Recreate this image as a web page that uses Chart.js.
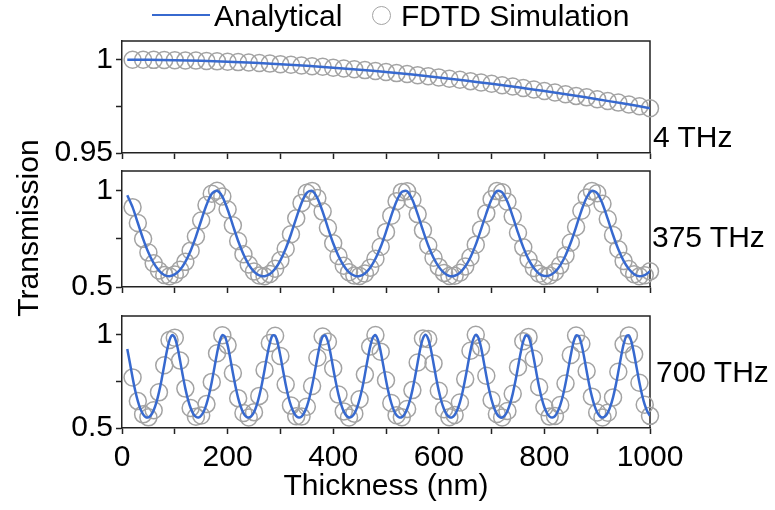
<!DOCTYPE html>
<html>
<head>
<meta charset="utf-8">
<script src="https://cdn.jsdelivr.net/npm/chart.js@4.4.1/dist/chart.umd.min.js"></script>
<style>
  body { margin: 0; background: #fff; }
  #wrap { position: relative; width: 775px; height: 510px; overflow: hidden;
          font-family: "Liberation Sans", Arial, sans-serif; color: #000; }
  canvas { position: absolute; left: 0; }
  .txt { position: absolute; font-size: 30px; line-height: 30px; white-space: nowrap; }
</style>
</head>
<body>
<div id="wrap">
  <canvas id="p1" width="775" height="134" style="top:31px"></canvas>
  <canvas id="p2" width="775" height="138" style="top:161px"></canvas>
  <canvas id="p3" width="775" height="204" style="top:306px"></canvas>

  <div style="position:absolute;left:152px;top:14px;width:58px;border-top:2.5px solid #3769cf"></div>
  <div class="txt" style="left:214px;top:1px">Analytical</div>
  <div style="position:absolute;left:372px;top:6px;width:17px;height:17px;border:1.5px solid #a3a3a3;border-radius:50%"></div>
  <div class="txt" style="left:401px;top:1px">FDTD Simulation</div>

  <div class="txt" style="left:-122px;top:213px;width:300px;text-align:center;transform:rotate(-90deg)">Transmission</div>

  <div class="txt" style="left:653px;top:122px">4 THz</div>
  <div class="txt" style="left:652px;top:222px">375 THz</div>
  <div class="txt" style="left:656px;top:357px">700 THz</div>
</div>
<script>
// thickness grids (nm)
const thk1Line = [10,50,100,150,200,250,300,350,400,450,500,550,600,650,700,750,800,850,900,950,1000];
const thk1Sim = [20,40,60,80,100,120,140,160,180,200,220,240,260,280,300,320,340,360,380,400,
  420,440,460,480,500,520,540,560,580,600,620,640,660,680,700,720,740,760,780,800,
  820,840,860,880,900,920,940,960,980,1000];
const thk10 = [10,20,30,40,50,60,70,80,90,100,110,120,130,140,150,160,170,180,190,200,
  210,220,230,240,250,260,270,280,290,300,310,320,330,340,350,360,370,380,390,400,
  410,420,430,440,450,460,470,480,490,500,510,520,530,540,550,560,570,580,590,600,
  610,620,630,640,650,660,670,680,690,700,710,720,730,740,750,760,770,780,790,800,
  810,820,830,840,850,860,870,880,890,900,910,920,930,940,950,960,970,980,990,1000];
const thkSim = [20,30,40,50,60,70,80,90,100,110,120,130,140,150,160,170,180,190,200,
  210,220,230,240,250,260,270,280,290,300,310,320,330,340,350,360,370,380,390,400,
  410,420,430,440,450,460,470,480,490,500,510,520,530,540,550,560,570,580,590,600,
  610,620,630,640,650,660,670,680,690,700,710,720,730,740,750,760,770,780,790,800,
  810,820,830,840,850,860,870,880,890,900,910,920,930,940,950,960,970,980,990,1000];
const thk5 = [10,15,20,25,30,35,40,45,50,55,60,65,70,75,80,85,90,95,100,105,
  110,115,120,125,130,135,140,145,150,155,160,165,170,175,180,185,190,195,200,205,
  210,215,220,225,230,235,240,245,250,255,260,265,270,275,280,285,290,295,300,305,
  310,315,320,325,330,335,340,345,350,355,360,365,370,375,380,385,390,395,400,405,
  410,415,420,425,430,435,440,445,450,455,460,465,470,475,480,485,490,495,500,505,
  510,515,520,525,530,535,540,545,550,555,560,565,570,575,580,585,590,595,600,605,
  610,615,620,625,630,635,640,645,650,655,660,665,670,675,680,685,690,695,700,705,
  710,715,720,725,730,735,740,745,750,755,760,765,770,775,780,785,790,795,800,805,
  810,815,820,825,830,835,840,845,850,855,860,865,870,875,880,885,890,895,900,905,
  910,915,920,925,930,935,940,945,950,955,960,965,970,975,980,985,990,995,1000];

// 4 THz
const t4Analytical = [1.000,0.9999,0.9997,0.9994,0.9989,0.9983,0.9976,0.9967,0.9957,0.9946,0.9934,
  0.9920,0.9905,0.9888,0.9871,0.9852,0.9832,0.9811,0.9788,0.9765,0.9740];
const t4Fdtd = [1.000,1.000,0.9999,0.9998,0.9997,0.9996,0.9995,0.9993,0.9991,0.9989,
  0.9987,0.9985,0.9982,0.9979,0.9976,0.9973,0.9969,0.9965,0.9962,0.9957,
  0.9953,0.9949,0.9944,0.9939,0.9934,0.9928,0.9923,0.9917,0.9911,0.9905,
  0.9898,0.9892,0.9885,0.9878,0.9871,0.9863,0.9856,0.9848,0.9840,0.9832,
  0.9824,0.9815,0.9806,0.9798,0.9788,0.9779,0.9770,0.9760,0.9750,0.9740];

// 375 THz
const t375Analytical = [0.975,0.913,0.831,0.749,0.678,0.623,0.585,0.562,0.556,0.565,
  0.589,0.630,0.688,0.761,0.844,0.924,0.982,0.998,0.968,0.901,
  0.819,0.738,0.669,0.616,0.580,0.560,0.556,0.567,0.594,0.638,
  0.698,0.773,0.856,0.935,0.987,0.997,0.960,0.890,0.806,0.726,
  0.660,0.610,0.576,0.559,0.557,0.570,0.600,0.646,0.708,0.785,
  0.869,0.944,0.992,0.995,0.951,0.877,0.793,0.715,0.651,0.604,
  0.573,0.557,0.558,0.574,0.606,0.654,0.719,0.798,0.881,0.954,
  0.996,0.990,0.941,0.865,0.781,0.705,0.643,0.598,0.569,0.557,
  0.560,0.578,0.612,0.663,0.730,0.810,0.894,0.963,0.997,0.985,
  0.931,0.852,0.769,0.695,0.635,0.593,0.566,0.556,0.561,0.581];
const t375Fdtd = [0.913,0.831,0.749,0.678,0.623,0.585,0.562,0.556,0.565,
  0.589,0.630,0.688,0.761,0.844,0.924,0.982,0.998,0.968,0.901,
  0.819,0.738,0.669,0.616,0.580,0.560,0.556,0.567,0.594,0.638,
  0.698,0.773,0.856,0.935,0.987,0.997,0.960,0.890,0.806,0.726,
  0.660,0.610,0.576,0.559,0.557,0.570,0.600,0.646,0.708,0.785,
  0.869,0.944,0.992,0.995,0.951,0.877,0.793,0.715,0.651,0.604,
  0.573,0.557,0.558,0.574,0.606,0.654,0.719,0.798,0.881,0.954,
  0.996,0.990,0.941,0.865,0.781,0.705,0.643,0.598,0.569,0.557,
  0.560,0.578,0.612,0.663,0.730,0.810,0.894,0.963,0.997,0.985,
  0.931,0.852,0.769,0.695,0.635,0.593,0.566,0.556,0.561,0.581];

// 700 THz
const t700Analytical = [0.923,0.848,0.771,0.701,0.644,0.601,0.573,0.558,0.557,0.569,
  0.595,0.636,0.691,0.759,0.836,0.912,0.971,0.998,0.984,0.934,
  0.861,0.783,0.711,0.652,0.607,0.576,0.560,0.556,0.567,0.590,
  0.628,0.681,0.747,0.823,0.900,0.964,0.997,0.989,0.944,0.873,
  0.795,0.722,0.660,0.613,0.580,0.561,0.556,0.564,0.585,0.621,
  0.672,0.736,0.811,0.889,0.955,0.995,0.994,0.953,0.886,0.808,
  0.733,0.669,0.620,0.585,0.563,0.556,0.561,0.581,0.614,0.662,
  0.725,0.798,0.876,0.946,0.990,0.996,0.962,0.898,0.820,0.745,
  0.679,0.627,0.589,0.566,0.556,0.560,0.577,0.608,0.654,0.713,
  0.786,0.864,0.936,0.985,0.998,0.970,0.909,0.833,0.756,0.688,
  0.634,0.594,0.568,0.557,0.558,0.573,0.602,0.645,0.703,0.773,
  0.851,0.926,0.980,1.000,0.977,0.921,0.846,0.768,0.699,0.642,
  0.600,0.572,0.558,0.557,0.570,0.596,0.637,0.693,0.762,0.839,
  0.914,0.973,0.999,0.983,0.932,0.858,0.780,0.709,0.650,0.606,
  0.575,0.559,0.556,0.567,0.591,0.630,0.683,0.750,0.826,0.903,
  0.965,0.997,0.988,0.941,0.871,0.793,0.720,0.658,0.611,0.579,
  0.561,0.556,0.564,0.587,0.623,0.673,0.738,0.813,0.891,0.958,
  0.995,0.993,0.951,0.883,0.805,0.731,0.668,0.618,0.583,0.563,
  0.556,0.562,0.582,0.616,0.664,0.727,0.801,0.879,0.948,0.991,
  0.996,0.960,0.895,0.818,0.742,0.677,0.625,0.588,0.565];
const t700Fdtd = [0.771,0.644,0.573,0.557,0.595,0.691,0.836,0.971,0.984,
  0.861,0.711,0.607,0.560,0.567,0.628,0.747,0.900,0.997,0.944,
  0.795,0.660,0.580,0.556,0.585,0.672,0.811,0.955,0.994,0.886,
  0.733,0.620,0.563,0.561,0.614,0.725,0.876,0.990,0.962,0.820,
  0.679,0.589,0.556,0.577,0.654,0.786,0.936,0.998,0.909,0.756,
  0.634,0.568,0.558,0.602,0.703,0.851,0.980,0.977,0.846,0.699,
  0.600,0.558,0.570,0.637,0.762,0.914,0.999,0.932,0.780,0.650,
  0.575,0.556,0.591,0.683,0.826,0.965,0.988,0.871,0.720,0.611,
  0.561,0.564,0.623,0.738,0.891,0.995,0.951,0.805,0.668,0.583,
  0.556,0.582,0.664,0.801,0.948,0.996,0.895,0.742,0.625,0.565];

const FONT = '"Liberation Sans", Arial, sans-serif';
const BLUE = '#3769cf';
const GREY = '#a3a3a3';
const AXIS = '#222';

function pts(xs, ys) {
  return xs.map((x, i) => ({ x: x, y: ys[i] }));
}

// top + right edges of each panel box
const boxPlugin = {
  id: 'box',
  beforeDatasetsDraw(chart) {
    const a = chart.chartArea, ctx = chart.ctx;
    ctx.save();
    ctx.strokeStyle = AXIS;
    ctx.lineWidth = 1.5;
    ctx.beginPath();
    ctx.moveTo(a.left, a.top);
    ctx.lineTo(a.right, a.top);
    ctx.lineTo(a.right, a.bottom);
    ctx.stroke();
    ctx.restore();
  }
};

function panel(id, lx, ly, sx, sy, yMin, yMax, yStep, yShown, xLabels, xHeight) {
  return new Chart(document.getElementById(id), {
    type: 'scatter',
    data: {
      datasets: [
        {
          label: 'Analytical',
          data: pts(lx, ly),
          showLine: true,
          borderColor: BLUE,
          borderWidth: 2.5,
          pointRadius: 0,
          tension: 0.3,
          order: 0
        },
        {
          label: 'FDTD Simulation',
          data: pts(sx, sy),
          showLine: false,
          pointRadius: 8.5,
          pointBorderWidth: 1.5,
          pointBorderColor: GREY,
          pointBackgroundColor: 'rgba(0,0,0,0)',
          clip: false,
          order: 1
        }
      ]
    },
    options: {
      responsive: false,
      animation: false,
      layout: { padding: { top: 10, right: 125, left: 0, bottom: 0 } },
      plugins: { legend: { display: false }, tooltip: { enabled: false } },
      scales: {
        x: {
          type: 'linear',
          min: 0, max: 1000,
          afterFit(s) { s.height = xHeight; s.paddingLeft = 0; s.paddingRight = 0; },
          grid: { drawOnChartArea: false, drawTicks: true, tickLength: 6, tickWidth: 1.5, tickColor: AXIS },
          border: { color: AXIS, width: 1.5 },
          ticks: {
            stepSize: 100,
            padding: 6,
            color: '#000',
            font: { family: FONT, size: 30 },
            maxRotation: 0,
            autoSkip: false,
            callback: v => (xLabels && v % 200 === 0) ? String(v) : ''
          },
          title: {
            display: xLabels,
            text: 'Thickness (nm)',
            color: '#000',
            font: { family: FONT, size: 30 },
            padding: { top: 0, bottom: 5 }
          }
        },
        y: {
          min: yMin, max: yMax,
          afterFit(s) { s.width = 122; s.paddingTop = 0; s.paddingBottom = 0; },
          grid: { drawOnChartArea: false, drawTicks: true, tickLength: 6, tickWidth: 1.5, tickColor: AXIS },
          border: { color: AXIS, width: 1.5 },
          ticks: {
            stepSize: yStep,
            includeBounds: false,
            padding: 3,
            color: '#000',
            font: { family: FONT, size: 30 },
            callback: v => {
              const hit = yShown.find(t => Math.abs(t - v) < 1e-6);
              return hit === undefined ? '' : String(hit);
            }
          }
        }
      }
    },
    plugins: [boxPlugin]
  });
}

panel('p1', thk1Line, t4Analytical, thk1Sim, t4Fdtd, 0.95, 1.01, 0.025, [0.95, 1], false, 12);
panel('p2', thk10, t375Analytical, thkSim, t375Fdtd, 0.5, 1.1, 0.25, [0.5, 1], false, 12);
panel('p3', thk5, t700Analytical, thkSim, t700Fdtd, 0.5, 1.1, 0.25, [0.5, 1], true, 82);
</script>
</body>
</html>
